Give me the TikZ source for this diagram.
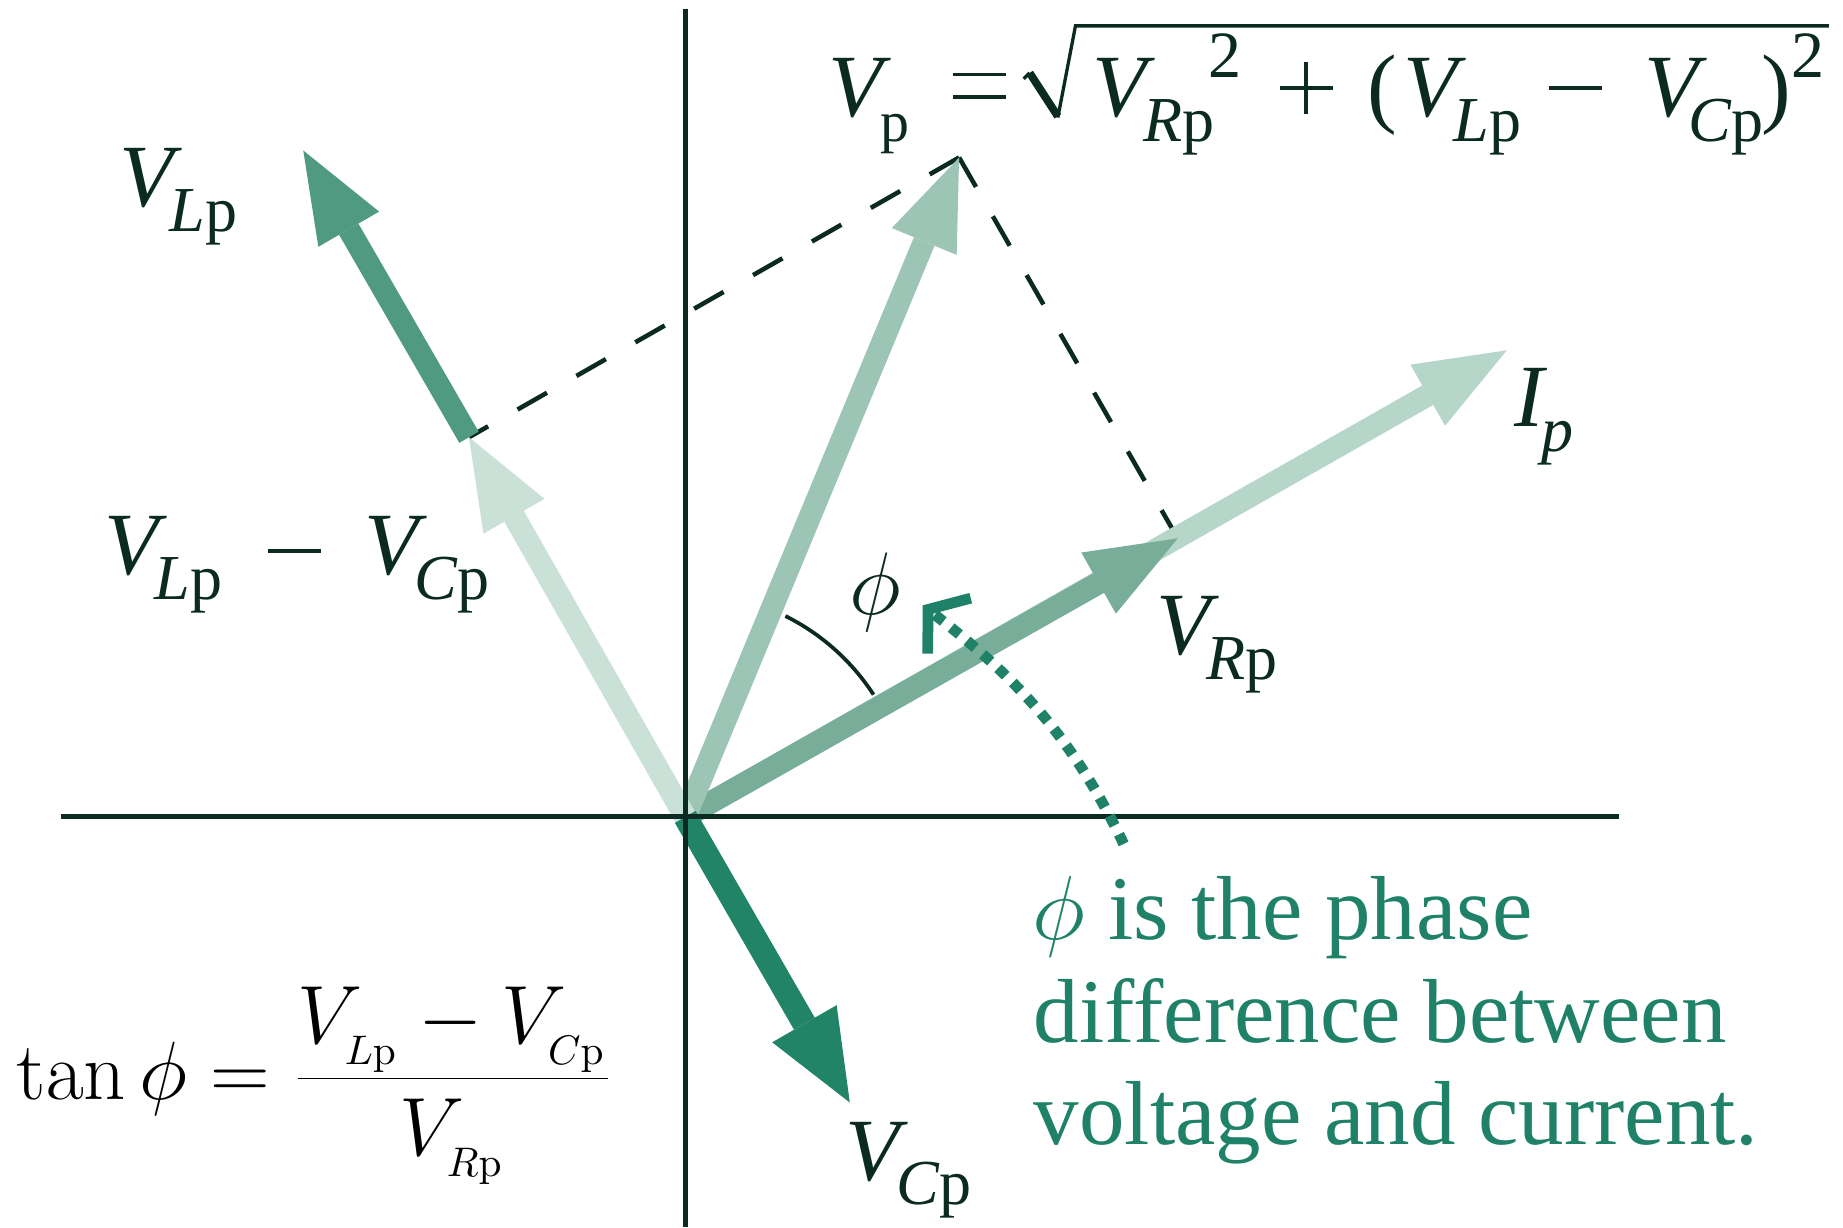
\RequirePackage{fix-cm}
\documentclass[tikz,border=0pt]{standalone}
\usepackage[no-math]{fontspec}
\setmainfont{Liberation Serif}
\usetikzlibrary{arrows.meta}
\definecolor{ink}{HTML}{0B2A21}
\definecolor{cVL}{HTML}{4F9A80}
\definecolor{cVC}{HTML}{218466}
\definecolor{cVp}{HTML}{9DC5B6}
\definecolor{cI}{HTML}{B6D6C9}
\definecolor{cVR}{HTML}{78AD9A}
\definecolor{cVLC}{HTML}{C9E1D7}
\definecolor{txtg}{HTML}{1F8268}
\newcommand{\sbs}[1]{\raisebox{-6pt}{\fontsize{15.5}{18}\selectfont #1}}
\newcommand{\VV}[1]{\textit{V}\kern-3pt\sbs{#1}}
\newcommand{\sps}{\raisebox{9.5pt}{\fontsize{16}{18}\selectfont 2}}
% operators drawn as rules: #1 = height of their centre above the baseline
\newcommand{\opminus}[1]{\raisebox{\dimexpr#1-0.5pt\relax}{\rule{12.8pt}{1pt}}}
\newcommand{\opplus}[1]{\rlap{\raisebox{\dimexpr#1-0.5pt\relax}{\rule{12.8pt}{1pt}}}\hspace{5.9pt}\raisebox{\dimexpr#1-6.4pt\relax}{\rule{1pt}{12.8pt}}}
\newcommand{\opeq}[1]{\rlap{\raisebox{\dimexpr#1-3.2pt\relax}{\rule{12.8pt}{0.9pt}}}\raisebox{\dimexpr#1+2.3pt\relax}{\rule{12.8pt}{0.9pt}}}
\tikzset{
  vec/.style={line width=5.4pt, -{Triangle[length=22pt,width=17pt,line width=0pt]}},
  axisline/.style={draw=ink, line width=1.25pt},
  guide/.style={draw=ink, line width=1.1pt, dash pattern=on 8.2pt off 8.2pt},
  lbl/.style={inner sep=0pt, text=ink, font=\fontsize{21.5}{24}\selectfont, anchor=base west},
  gtxt/.style={inner sep=0pt, text=txtg, font=\fontsize{22}{25}\selectfont, anchor=base west},
}
\begin{document}
\begin{tikzpicture}[x=0.01cm,y=-0.01cm]
\useasboundingbox (0,0) rectangle (1568,1044);
% points
\coordinate (O) at (583,695);
\coordinate (tVL) at (258,128);
\coordinate (tVLC) at (399,372);
\coordinate (tVp) at (816,134);
\coordinate (tI) at (1282,298);
\coordinate (tVR) at (1002,458);
\coordinate (tVC) at (723,938);
\coordinate (axT) at (583,8);
\coordinate (axB) at (583,1044);
\coordinate (axL) at (52,695);
\coordinate (axR) at (1377,695);
\coordinate (d0) at (956,718);
\coordinate (d1) at (785,515);
% dashed guides
\draw[guide] (tVp) -- (tVLC);
\draw[guide] (tVp) -- (tVR);
% vectors
\draw[vec, draw=cI, fill=cI] (O) -- (tI);
\draw[vec, draw=cVR, fill=cVR] (O) -- (tVR);
\draw[vec, draw=cVp, fill=cVp] (O) -- (tVp);
\draw[vec, draw=cVL, fill=cVL] (tVLC) -- (tVL);
\draw[vec, draw=cVLC, fill=cVLC] (O) -- (tVLC);
\draw[vec, line width=5.8pt, draw=cVC, fill=cVC, -{Triangle[length=22pt,width=18pt,line width=0pt]}] (O) -- (tVC);
% axes
\draw[axisline] (axT) -- (axB);
\draw[axisline] (axL) -- (axR);
% phi arc
\draw[ink, line width=0.9pt] (O) ++(-33:191) arc[start angle=-33, end angle=-63.5, radius=191];
\node[inner sep=0pt, text=ink, font=\fontsize{21.5}{24}\selectfont] (lphi) at (745,504) {$\phi$};
% dotted arrow
\draw[txtg, line width=2.6pt, dash pattern=on 2.6pt off 2.4pt, -{Straight Barb[length=6.5pt,width=17pt,line width=2.6pt]}] (d0) .. controls (912,626) and (865,577) .. (d1);
% labels
\node[lbl] (lVL) at (101,176) {\VV{\textit{L}p}};
\node[lbl] (lVLC) at (88,489) {\makebox[1.39cm][l]{\VV{\textit{L}p}}\makebox[0.82cm][l]{\opminus{5.8pt}}\VV{\textit{C}p}};
\node[lbl] (lVR) at (983,557) {\VV{\textit{R}p}};
\node[lbl] (lVC) at (719,1004) {\VV{\textit{C}p}};
\node[lbl] (lI) at (1288,363) {\textit{I}\kern-1.5pt\sbs{\textit{p}}};
% top formula
\node[lbl] (fA) at (704,99.5) {\makebox[1.06cm][l]{\textit{V}\kern-2.5pt\raisebox{-6pt}{\fontsize{14}{16}\selectfont p}}\opeq{7.5pt}};
\draw[ink, line width=0.8pt] (871,67) -- (876,62);
\draw[ink, line width=1.9pt] (876,62) -- (900,99);
\draw[ink, line width=0.8pt, line join=miter] (900,100) -- (915,22) -- (1556,22);
\node[lbl] (fC) at (929,99.5) {\makebox[0.98cm][l]{\VV{\textit{R}p}}\makebox[0.61cm][l]{\sps}\makebox[0.75cm][l]{\opplus{7pt}}\makebox[0.30cm][l]{(}\makebox[1.24cm][l]{\VV{\textit{L}p}}\makebox[0.81cm][l]{\opminus{7pt}}\makebox[1.00cm][l]{\textit{V}\kern-4.5pt\sbs{\textit{C}p}}\makebox[0.25cm][l]{)}\sps};
% tan formula
\node[inner sep=0pt, anchor=base west, text=black, font=\fontsize{20}{24}\selectfont] (ftan) at (13,935) {$\displaystyle\tan\phi = \frac{V_{_{L\mathrm{p}}}-V_{_{C\mathrm{p}}}}{V_{_{R\mathrm{p}}}}$};
% green text
\node[gtxt] (g1) at (878,799) {$\phi$ is the phase};
\node[gtxt] (g2) at (879,887) {difference between};
\node[gtxt] (g3) at (879,973.5) {voltage and current.};
\end{tikzpicture}
\end{document}
